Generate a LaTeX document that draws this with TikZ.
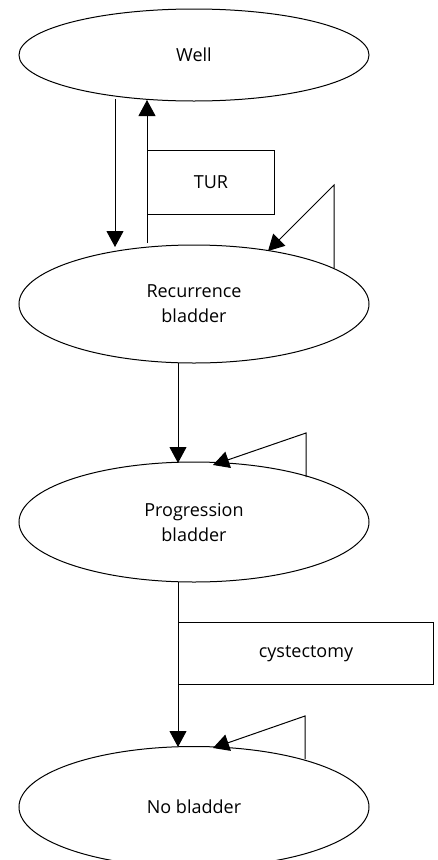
\documentclass[tikz,border=0pt]{standalone}
\usepackage{fontspec}
\setmainfont{Open Sans}
\usetikzlibrary{shapes.geometric,arrows.meta}
\begin{document}
\begin{tikzpicture}[x=1pt,y=-1pt,
  line width=1pt,
  state/.style={draw, ellipse, inner sep=0pt, minimum width=350pt, align=center, font=\fontsize{18}{25}\selectfont},
  proc/.style={draw, rectangle, inner sep=0pt, font=\fontsize{18}{25}\selectfont},
  arr/.style={-{Triangle[width=17pt,length=16pt]}}]
\useasboundingbox (0,0) rectangle (437,860);
\begin{scope}
\clip (0,0) rectangle (437,860);
\node[state, minimum height=92pt] (well) at (194,55) {Well};
\node[state, minimum height=118pt] (rec) at (194,304) {Recurrence\\bladder};
\node[state, minimum height=120pt] (prog) at (194,522) {Progression\\bladder};
\node[state, minimum height=121pt] (nob) at (194,807) {No bladder};
\end{scope}
\node[proc, minimum width=127pt, minimum height=64pt, anchor=north west] (tur) at (147,150) {TUR};
\node[proc, minimum width=255pt, minimum height=62pt, anchor=north west] (cys) at (178,622) {cystectomy};
% coordinates
\coordinate (d1) at (115,99);
\coordinate (d2) at (115,247);
\coordinate (u1) at (147,243);
\coordinate (u2) at (147,100);
\coordinate (r1) at (334,268);
\coordinate (r2) at (334,185);
\coordinate (r3) at (268,251);
\coordinate (p0) at (178,363);
\coordinate (p1) at (178,463);
\coordinate (q1) at (306,477);
\coordinate (q2) at (306,433);
\coordinate (q3) at (213,465);
\coordinate (n0) at (178,582);
\coordinate (n1) at (178,747);
\coordinate (s1) at (305,759);
\coordinate (s2) at (305,716);
\coordinate (s3) at (213,748);
\draw[arr] (d1) -- (d2);
\draw[arr] (u1) -- (u2);
\draw[arr] (r1) -- (r2) -- (r3);
\draw[arr] (p0) -- (p1);
\draw[arr] (q1) -- (q2) -- (q3);
\draw[arr] (n0) -- (n1);
\draw[arr] (s1) -- (s2) -- (s3);
\end{tikzpicture}
\end{document}
